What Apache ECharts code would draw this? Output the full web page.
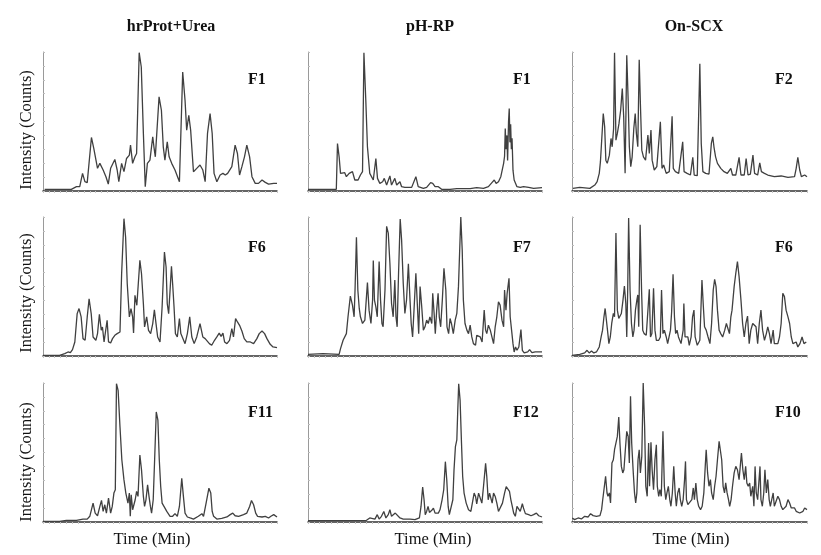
<!DOCTYPE html>
<html>
<head>
<meta charset="utf-8">
<script src="https://cdn.jsdelivr.net/npm/echarts@6/dist/echarts.min.js"></script>
<style>
html,body{margin:0;padding:0;background:#fff;}
#chart{width:821px;height:555px;}
</style>
</head>
<body>
<div id="chart"></div>
<script>
// ---------- labels ----------
const columnTitles = ['hrProt+Urea', 'pH-RP', 'On-SCX'];
const fractionLabels = ['F1', 'F1', 'F2', 'F6', 'F7', 'F6', 'F11', 'F12', 'F10'];
const yAxisTitle = 'Intensity (Counts)';
const xAxisTitle = 'Time (Min)';

// ---------- series: [time (relative, 0-100), intensity (relative, 0-100)] ----------
const hrProtF1 = [[0.7,1.2],[12.1,1.2],[14.3,3.1],[15.7,3.1],[16.9,12.7],[17.9,6.7],[18.9,6.0],[20.7,38.5],[21.7,30.6],[22.1,31.8],[23.3,16.3],[24.3,19.9],[25.7,15.1],[26.9,10.3],[27.9,5.0],[28.9,16.3],[30.7,22.7],[31.7,15.1],[32.4,6.7],[33.6,19.9],[34.6,13.9],[35.7,23.4],[36.9,25.8],[37.4,33.0],[38.3,19.9],[39.3,24.6],[40.0,27.0],[41.1,99.5],[42.0,89.2],[42.9,41.4],[43.7,3.1],[44.6,19.9],[45.7,22.2],[46.9,39.0],[47.4,31.8],[48.0,24.6],[49.6,67.7],[50.6,58.1],[51.4,31.8],[52.1,22.2],[53.1,35.4],[53.9,24.6],[55.0,19.9],[56.4,15.1],[58.3,6.7],[59.7,85.6],[60.7,65.3],[61.4,43.8],[62.3,54.5],[63.1,43.8],[64.3,13.9],[65.7,16.3],[67.1,18.7],[68.3,15.1],[69.3,6.7],[70.3,41.4],[71.4,55.7],[72.3,41.4],[73.1,12.7],[74.3,6.7],[75.7,11.5],[76.9,12.7],[77.9,11.5],[78.9,12.7],[80.7,17.5],[82.1,33.0],[83.1,27.0],[84.0,11.5],[85.0,17.5],[86.1,24.6],[87.1,33.0],[88.3,24.6],[89.3,10.3],[90.7,5.5],[92.1,5.5],[93.6,7.9],[95.0,6.2],[96.4,5.0],[98.6,5.5],[100,5.5]];

const phrpF1 = [[0,1.2],[12.1,1.2],[12.6,34.2],[13.3,24.6],[13.9,12.7],[14.7,11.5],[15.7,13.2],[16.4,10.3],[17.6,12.7],[19.0,13.9],[20.0,7.9],[21.4,7.9],[22.4,11.5],[23.3,14],[23.9,99.5],[24.7,65.3],[25.4,31.8],[26.4,12.7],[27.9,7.9],[29.0,23.4],[29.7,9.1],[30.7,5.5],[31.9,6.7],[32.6,9.1],[33.6,4.3],[35.0,10.8],[35.7,4.3],[37.1,9.1],[37.9,4.3],[39.3,6.7],[40.0,3.1],[41.4,2.6],[44.3,2.6],[46.1,10.3],[47.1,3.1],[49.3,1.9],[50.7,2.6],[52.4,6.0],[53.3,5.5],[54.3,3.1],[55.7,3.1],[57.1,1.2],[60.7,1.2],[63.6,1.7],[69.3,1.7],[72.1,2.4],[75.0,1.9],[77.1,3.1],[78.6,6.0],[79.6,7.9],[80.4,5.5],[81.4,6.7],[82.4,10.3],[83.6,19.9],[84.0,25],[84.3,45],[84.6,30],[85.0,40],[85.3,22],[85.7,50],[86.0,59.3],[86.3,35],[86.6,48],[86.9,30],[87.2,38],[87.6,15],[88.1,7.9],[89.3,3.1],[90.7,2.6],[92.1,3.1],[94.3,2.6],[96.4,1.9],[100,2.4]];

const scxF2 = [[0.4,1.9],[3.3,2.6],[7.6,1.9],[9.7,4.3],[10.7,6.7],[11.6,12.7],[12.1,21.1],[12.7,19.9],[13.3,55.7],[13.9,46.2],[14.4,22.2],[15.0,19.9],[15.9,25.8],[16.6,37.8],[17.1,31.8],[17.7,45.0],[18.1,99.5],[18.7,36.6],[19.3,41.4],[20.0,48.6],[20.7,58.1],[21.4,73.7],[22.0,53.3],[22.6,12.7],[23.3,97.6],[23.9,65.3],[24.4,31.8],[25.0,17.5],[25.6,24.6],[26.3,45.0],[26.9,55.7],[27.4,41.4],[28.0,31.8],[28.6,94.5],[29.1,62.9],[29.7,29.4],[30.4,24.6],[31.3,22.2],[32.3,40.2],[32.9,27.0],[33.6,43.8],[34.1,22.2],[35.0,15.1],[36.1,17.5],[37.6,49.8],[38.3,16.3],[39.0,18.7],[40.1,12.7],[41.4,13.9],[42.6,53.8],[43.1,16.3],[44.0,13.9],[45.4,12.7],[47.1,35.4],[47.7,13.9],[49.0,12.7],[50.4,11.5],[51.4,24.2],[52.0,11.5],[53.3,11.0],[54.4,91.6],[55.0,34.2],[55.7,13.9],[56.9,12.7],[58.3,12.2],[59.3,34.2],[59.9,39.0],[60.4,31.8],[61.1,24.6],[61.9,19.9],[63.3,16.3],[64.7,13.9],[66.1,12.7],[67.6,16.3],[68.3,11.5],[69.7,11.5],[71.1,24.2],[71.9,11.5],[73.3,11.5],[74.1,23.4],[74.9,11.5],[75.9,12.2],[77.0,25.8],[77.7,12.7],[79.0,11.5],[79.9,20.3],[80.6,13.9],[81.9,12.7],[83.3,11.5],[86.1,10.3],[89.0,10.8],[91.9,9.8],[94.7,10.3],[95.4,16.3],[96.1,24.2],[96.9,15.1],[97.6,10.3],[99.0,11.5],[100,10.3]];

const hrProtF6 = [[0,0.5],[7.1,0.5],[9.3,1.7],[10.7,2.9],[11.7,2.4],[12.6,4.6],[13.6,10.1],[14.6,30.5],[15.4,34.1],[16.3,28.1],[17.1,12.5],[18.0,11.3],[18.9,28.1],[19.7,41.2],[20.6,30.5],[21.4,13.7],[22.6,11.3],[23.3,16.1],[24.1,30.0],[24.9,18.5],[25.4,20.9],[26.1,10.1],[26.9,11.3],[27.4,25.7],[28.0,10.1],[28.9,9.4],[29.7,12.5],[30.7,14.9],[31.7,16.1],[32.9,17.3],[33.6,59.2],[34.6,98.8],[35.3,85.6],[36.0,52.0],[36.9,28.1],[37.6,34.1],[38.3,28.1],[38.7,16.5],[39.3,43.6],[40.1,36.5],[40.7,36.5],[41.4,68.8],[42.1,59.2],[42.9,37.6],[43.4,20.9],[44.3,28.1],[45.1,18.5],[46.0,16.1],[46.9,23.3],[47.6,33.3],[48.3,23.3],[49.0,13.7],[50.0,10.1],[50.9,35.3],[51.9,74.8],[52.6,64.0],[53.1,37.6],[53.7,30.5],[54.3,47.2],[54.9,64.5],[55.4,52.0],[56.0,35.3],[56.6,16.1],[57.4,13.7],[58.3,26.9],[58.9,16.1],[59.7,14.9],[60.7,8.9],[61.7,16.1],[62.7,28.1],[63.6,13.7],[64.6,8.9],[65.7,13.7],[67.1,23.3],[68.3,13.7],[69.3,12.5],[70.0,13.7],[71.1,8.9],[72.1,7.7],[73.3,11.3],[74.3,13.7],[75.3,16.5],[76.1,14.1],[76.9,16.5],[77.6,10.1],[78.6,8.9],[79.7,11.3],[80.7,19.7],[81.4,13.7],[82.3,26.9],[83.1,24.5],[84.0,22.1],[85.0,18.0],[86.0,12.5],[87.1,10.1],[88.6,10.1],[90.0,8.9],[91.4,12.5],[92.4,16.1],[93.6,18.0],[94.7,16.1],[95.7,12.5],[97.1,8.4],[98.3,6.5],[99.1,7.0],[100,6.0]];

const phrpF7 = [[0,1.2],[6.4,1.7],[13.3,1.2],[13.9,5.3],[15.0,11.3],[16.4,16.1],[17.1,28.2],[18.1,43.1],[19.0,36.6],[19.7,28.2],[20.1,47.5],[20.7,85.5],[21.3,47.5],[21.9,34.2],[22.4,28.2],[23.3,23.4],[24.3,25.8],[25.4,52.8],[26.1,33.0],[26.9,23.4],[27.6,40.2],[27.9,68.7],[28.4,40.2],[29.0,35.4],[29.6,28.2],[30.4,68.0],[31.0,40.2],[31.6,23.4],[32.1,21.0],[32.9,47.5],[33.6,93.3],[34.3,88.4],[35.0,66.7],[35.7,37.8],[36.4,28.2],[37.1,54.7],[37.6,28.2],[38.1,21.0],[38.7,59.5],[39.4,98.6],[40.0,83.6],[40.7,52.3],[41.4,30.6],[42.1,40.2],[42.9,66.3],[43.6,40.2],[44.1,23.4],[44.7,13.7],[45.3,33.0],[46.1,59.5],[46.7,37.8],[47.3,16.1],[47.9,49.9],[48.6,35.4],[49.3,18.6],[50.0,21.0],[50.7,25.8],[51.4,23.4],[52.1,28.2],[52.9,23.4],[53.3,45.1],[53.9,30.6],[54.4,16.1],[55.0,33.0],[55.6,45.1],[56.1,28.2],[56.7,21.0],[57.4,40.2],[58.1,63.1],[58.9,47.5],[59.4,21.0],[60.1,16.1],[60.7,27.0],[61.3,23.4],[62.1,16.1],[62.9,25.8],[63.6,30.6],[64.3,49.9],[65.3,100],[65.9,76.4],[66.4,40.2],[67.1,23.4],[67.9,18.6],[68.6,16.1],[69.3,22.2],[70.0,13.7],[70.7,8.9],[71.6,7.7],[72.1,14.9],[73.6,13.7],[74.4,10.1],[75.3,33.0],[75.9,18.6],[76.4,16.1],[77.1,22.2],[77.9,18.6],[78.6,13.7],[79.3,8.9],[80.0,21.0],[80.7,28.2],[81.4,39.0],[82.1,36.6],[82.9,25.8],[83.6,21.0],[84.0,47.5],[84.6,33.0],[85.1,45.1],[85.9,55.9],[86.4,28.2],[87.0,18.6],[87.6,8.9],[88.1,2.9],[88.7,6.5],[89.3,4.1],[90.1,6.5],[91.0,19.0],[91.6,4.1],[92.4,2.2],[93.9,2.9],[94.7,4.6],[95.7,2.4],[97.1,2.9],[100,2.9]];

const scxF6 = [[0,0.5],[3.3,1.2],[5.4,2.2],[6.4,4.1],[7.3,2.2],[8.3,3.6],[9.3,2.2],[10.4,2.9],[11.6,6.5],[12.4,13.7],[13.0,18.6],[13.6,28.2],[14.1,34.2],[14.7,33.0],[15.1,18.6],[15.7,8.9],[16.3,13.7],[16.9,23.4],[17.6,30.6],[18.1,28.2],[18.7,88.4],[19.3,33.0],[19.9,27.0],[20.4,27.0],[21.0,30.6],[21.7,40.2],[22.3,50.4],[22.9,37.8],[23.3,13.7],[23.7,47.5],[24.1,99.3],[24.7,47.5],[25.3,23.4],[25.9,13.7],[26.4,18.6],[27.0,33.0],[27.6,40.2],[28.0,43.9],[28.4,21.0],[29.0,94.5],[29.6,47.5],[30.1,18.6],[30.7,16.1],[31.6,14.9],[32.3,16.1],[32.9,48.0],[33.4,13.7],[34.0,16.1],[34.7,48.7],[35.3,18.6],[35.9,11.3],[36.9,11.3],[37.6,13.7],[38.1,47.5],[38.7,16.1],[39.3,18.6],[40.1,13.7],[40.7,8.9],[41.9,18.6],[42.4,31.8],[43.0,58.8],[43.6,28.2],[44.1,16.1],[44.7,18.6],[45.3,13.7],[45.9,12.5],[46.4,8.9],[47.3,18.6],[47.6,37.8],[48.1,13.7],[48.7,12.5],[49.3,13.7],[49.9,7.7],[50.7,13.7],[51.3,28.2],[51.9,33.0],[52.4,13.7],[53.3,7.7],[54.4,11.3],[55.3,54.7],[55.9,35.4],[56.4,21.0],[57.1,18.6],[57.9,13.7],[58.7,8.9],[59.4,23.4],[60.1,47.5],[60.7,55.2],[61.3,49.9],[61.9,33.0],[62.6,18.6],[63.3,16.1],[64.1,13.7],[65.0,18.6],[65.7,23.4],[66.4,24.6],[67.0,16.1],[67.6,28.2],[68.1,33.0],[69.0,49.9],[69.7,59.5],[70.4,68.0],[71.1,57.1],[71.9,40.2],[72.6,23.4],[73.3,13.7],[74.0,23.4],[74.7,28.7],[75.4,8.9],[76.1,18.6],[76.9,23.4],[77.6,23.4],[78.3,21.0],[79.0,8.9],[79.7,23.4],[80.4,33.0],[81.1,18.6],[81.9,11.3],[82.7,16.1],[83.3,21.0],[84.0,16.1],[84.7,8.9],[85.6,18.6],[86.1,8.9],[86.9,7.7],[87.6,8.9],[88.3,13.7],[89.0,23.4],[89.7,45.1],[90.4,42.7],[91.1,33.0],[91.9,28.2],[92.6,23.4],[93.3,13.7],[94.0,8.9],[94.7,7.7],[95.4,10.1],[96.1,6.5],[97.0,8.9],[97.9,13.7],[98.7,8.9],[99.7,10.1],[100,10.1]];

const hrProtF11 = [[0,0.5],[7.1,0.5],[10,1.2],[14.3,1.2],[17.1,2.1],[18.9,2.1],[20.0,4.1],[21.4,13.6],[22.3,6.4],[23.3,4.5],[24.3,11.2],[25.0,15.5],[25.7,7.6],[26.4,12.4],[27.1,6.4],[28.0,17.2],[28.9,6.4],[29.6,11.2],[30.3,20.8],[30.9,23.2],[31.4,99.5],[32.1,94.7],[32.9,68.5],[33.7,44.6],[34.6,30.3],[35.4,20.8],[36.3,13.6],[36.9,20.8],[37.3,4.1],[37.7,19.6],[38.3,8.8],[38.9,7.6],[39.4,16.0],[40.0,22.0],[40.6,18.4],[41.4,48.2],[42.1,37.5],[42.9,18.4],[43.4,11.2],[44.0,16.0],[44.7,26.7],[45.3,18.4],[45.9,11.2],[46.4,6.4],[47.1,16.0],[47.7,44.6],[48.4,79.2],[49.1,73.3],[49.7,44.6],[50.3,25.5],[50.9,13.6],[51.7,11.2],[52.9,7.6],[54.3,4.1],[55.4,4.1],[56.4,6.0],[57.4,4.1],[58.3,11.2],[59.3,31.5],[60.0,18.4],[60.7,6.4],[61.7,3.6],[62.9,2.9],[64.3,2.1],[66.4,4.1],[67.9,6.0],[68.6,4.1],[69.7,13.6],[70.9,24.3],[71.7,20.8],[72.3,7.6],[72.9,4.1],[74.3,2.1],[76.4,2.6],[78.6,3.6],[80.0,5.3],[81.1,6.4],[82.1,4.5],[83.6,4.1],[85.7,5.3],[87.1,6.4],[88.3,11.2],[89.1,15.5],[90.0,12.4],[90.9,6.4],[91.7,4.1],[93.6,3.6],[95.0,4.1],[96.4,2.9],[97.4,4.1],[98.6,5.3],[99.3,4.1],[100,3.6]];

const phrpF12 = [[0,1.0],[13.6,1.0],[25.0,1.2],[26.4,2.9],[27.1,1.7],[28.6,2.1],[29.6,5.3],[30.4,2.1],[31.4,4.1],[32.4,7.6],[33.3,2.9],[34.3,5.3],[35.0,8.8],[35.7,4.1],[36.4,3.6],[37.3,6.4],[38.1,5.3],[39.3,2.9],[40.7,2.1],[43.6,2.1],[45.7,1.7],[47.6,2.9],[48.3,11.2],[49.0,25.1],[49.6,16.0],[50.1,5.3],[50.7,7.6],[51.3,11.2],[51.9,6.9],[52.9,8.4],[53.6,10.0],[54.3,6.4],[55.0,5.3],[55.7,6.4],[56.4,8.8],[57.3,16.0],[58.0,23.2],[58.7,43.4],[59.3,30.3],[59.9,11.2],[60.4,5.3],[61.1,5.3],[61.9,16.0],[62.4,37.5],[63.0,54.2],[63.6,59.0],[64.0,80.4],[64.4,99.5],[65.0,87.6],[65.6,56.6],[66.1,32.7],[66.7,20.8],[67.6,13.6],[68.6,8.8],[69.6,7.6],[70.4,8.8],[71.0,20.8],[71.6,18.4],[72.1,13.1],[72.9,20.8],[73.6,22.0],[74.3,13.6],[75.0,25.5],[75.9,42.2],[76.4,32.7],[77.0,16.0],[77.6,20.8],[78.1,22.0],[78.7,13.6],[79.3,20.8],[80.0,18.4],[80.7,13.6],[81.4,7.6],[82.1,6.4],[83.1,13.6],[84.0,20.8],[84.7,25.5],[85.4,26.7],[86.1,22.0],[86.7,16.0],[87.3,11.2],[87.9,6.4],[88.6,4.1],[89.3,11.2],[90.0,12.4],[90.7,7.6],[91.6,13.1],[92.1,10.0],[92.9,6.0],[93.6,6.4],[94.3,5.3],[95.3,4.5],[96.4,5.3],[97.6,6.4],[98.6,4.5],[99.3,4.1],[100,3.6]];

const scxF10 = [[0.1,2.9],[1.1,1.7],[2.6,2.9],[4.0,2.2],[5.4,4.1],[6.9,3.6],[7.9,6.0],[9.0,4.6],[10.4,4.1],[11.9,4.6],[12.6,8.9],[13.0,14.9],[13.7,16.1],[14.3,32.9],[14.9,20.9],[15.3,18.5],[15.9,20.9],[16.4,13.7],[17.0,42.4],[17.6,44.8],[18.1,52.0],[18.7,52.5],[19.3,61.6],[19.9,75.5],[20.4,56.8],[21.0,40.0],[21.6,35.3],[22.1,37.6],[22.7,52.0],[23.3,65.2],[23.9,61.6],[24.4,42.4],[24.9,90.4],[25.4,56.8],[26.0,37.6],[26.6,20.9],[27.1,13.7],[27.6,20.9],[28.1,44.8],[28.6,52.0],[29.1,35.3],[29.7,47.2],[30.3,100],[30.9,68.8],[31.4,25.7],[32.0,18.5],[32.6,56.8],[33.0,25.7],[33.6,57.3],[34.1,37.6],[34.7,23.3],[35.3,44.8],[35.9,55.6],[36.3,25.7],[36.9,18.5],[37.4,23.3],[38.0,18.5],[38.7,65.2],[39.3,25.7],[39.9,16.1],[40.4,20.9],[41.0,25.7],[41.6,16.1],[42.1,11.3],[42.7,20.9],[43.3,40.0],[43.9,20.9],[44.4,11.3],[45.0,20.9],[45.6,24.5],[46.1,16.1],[46.7,11.3],[47.3,16.1],[47.9,30.5],[48.3,43.6],[48.7,16.1],[49.3,12.5],[50.1,11.3],[51.0,16.1],[51.6,24.5],[52.1,16.1],[52.7,28.1],[53.3,16.1],[53.9,11.3],[54.7,8.9],[55.4,11.3],[56.1,20.9],[56.7,40.0],[57.1,52.0],[57.7,35.3],[58.3,25.7],[58.9,30.5],[59.4,20.9],[60.1,16.1],[60.7,25.7],[61.3,32.9],[61.9,44.8],[62.6,58.0],[63.1,56.8],[63.7,44.8],[64.3,25.7],[64.9,20.9],[65.4,28.1],[66.0,20.9],[66.6,16.1],[67.1,11.3],[67.7,16.1],[68.3,25.7],[69.0,35.3],[69.7,40.0],[70.4,37.6],[71.1,30.5],[71.6,40.0],[72.1,49.6],[72.7,37.6],[73.3,30.5],[73.9,40.0],[74.4,28.1],[75.0,25.7],[75.6,28.1],[76.1,18.5],[76.9,25.7],[77.4,11.3],[77.9,40.0],[78.4,20.9],[79.0,16.1],[79.6,30.5],[80.0,40.0],[80.4,16.1],[81.0,11.3],[81.6,20.9],[82.1,37.6],[82.7,20.9],[83.3,30.5],[83.9,16.1],[84.4,11.3],[85.0,16.1],[85.6,20.9],[86.1,11.3],[86.9,11.3],[87.6,18.5],[88.3,16.1],[89.0,11.3],[89.7,8.9],[90.4,10.1],[91.1,11.3],[91.9,16.1],[92.6,13.7],[93.3,10.1],[94.0,11.3],[94.7,10.1],[95.4,7.7],[96.9,6.5],[98.3,7.7],[99.0,10.1],[99.7,11.3],[100,8.9]];

const panelSeries = [hrProtF1, phrpF1, scxF2, hrProtF6, phrpF7, scxF6, hrProtF11, phrpF12, scxF10];

// ---------- layout ----------
const colLeft = [43, 308, 572];
const colWidth = [234, 234, 235];
const rowTop = [52, 217, 383];
const rowHeight = 139;
const colTitleX = [171, 430, 694];
const colTitleY = 27;
const xTitleX = [152, 433, 691];
const xTitleY = 540;
const yTitleX = 27;
const yTitleY = [130, 293, 462];
const fLabelX = [248, 513, 775];
const fLabelY = [80, 248, 413];

const serif = '"Liberation Serif", "Times New Roman", serif';

const grids = [], xAxes = [], yAxes = [], series = [];
for (let r = 0; r < 3; r++) {
  for (let c = 0; c < 3; c++) {
    const i = r * 3 + c;
    grids.push({ left: colLeft[c], top: rowTop[r], width: colWidth[c], height: rowHeight });
    xAxes.push({
      type: 'value', gridIndex: i, min: 0, max: 100, interval: 2.5,
      axisLabel: { show: false }, splitLine: { show: false },
      axisLine: { show: true, lineStyle: { color: '#333333', width: 1.5 } },
      axisTick: { show: true, length: 2, lineStyle: { color: '#c4c4c4', width: 1 } }
    });
    yAxes.push({
      type: 'value', gridIndex: i, min: 0, max: 100, interval: 10,
      axisLabel: { show: false }, splitLine: { show: false },
      axisLine: { show: true, lineStyle: { color: '#9a9a9a', width: 1 } },
      axisTick: { show: true, inside: true, length: 2, lineStyle: { color: '#bdbdbd', width: 1 } }
    });
    series.push({
      type: 'line', xAxisIndex: i, yAxisIndex: i, data: panelSeries[i],
      showSymbol: false, symbol: 'none', smooth: false, animation: false,
      lineStyle: { color: '#404040', width: 1.3 }
    });
  }
}

const graphics = [];
columnTitles.forEach((t, c) => graphics.push({
  type: 'text', x: colTitleX[c], y: colTitleY,
  style: { text: t, font: 'bold 16px ' + serif, fill: '#111', textAlign: 'center', textVerticalAlign: 'middle' }
}));
fractionLabels.forEach((t, i) => graphics.push({
  type: 'text', x: fLabelX[i % 3], y: fLabelY[Math.floor(i / 3)],
  style: { text: t, font: 'bold 16px ' + serif, fill: '#111', textAlign: 'left', textVerticalAlign: 'middle' }
}));
for (let c = 0; c < 3; c++) graphics.push({
  type: 'text', x: xTitleX[c], y: xTitleY,
  style: { text: xAxisTitle, font: '16.5px ' + serif, fill: '#111', textAlign: 'center', textVerticalAlign: 'middle' }
});
for (let r = 0; r < 3; r++) graphics.push({
  type: 'text', x: yTitleX, y: yTitleY[r], rotation: Math.PI / 2,
  style: { text: yAxisTitle, font: '16.5px ' + serif, fill: '#111', textAlign: 'center', textVerticalAlign: 'middle' }
});

const chart = echarts.init(document.getElementById('chart'), null, { renderer: 'canvas' });
chart.setOption({
  backgroundColor: '#ffffff',
  animation: false,
  grid: grids,
  xAxis: xAxes,
  yAxis: yAxes,
  series: series,
  graphic: graphics
});
</script>
</body>
</html>
